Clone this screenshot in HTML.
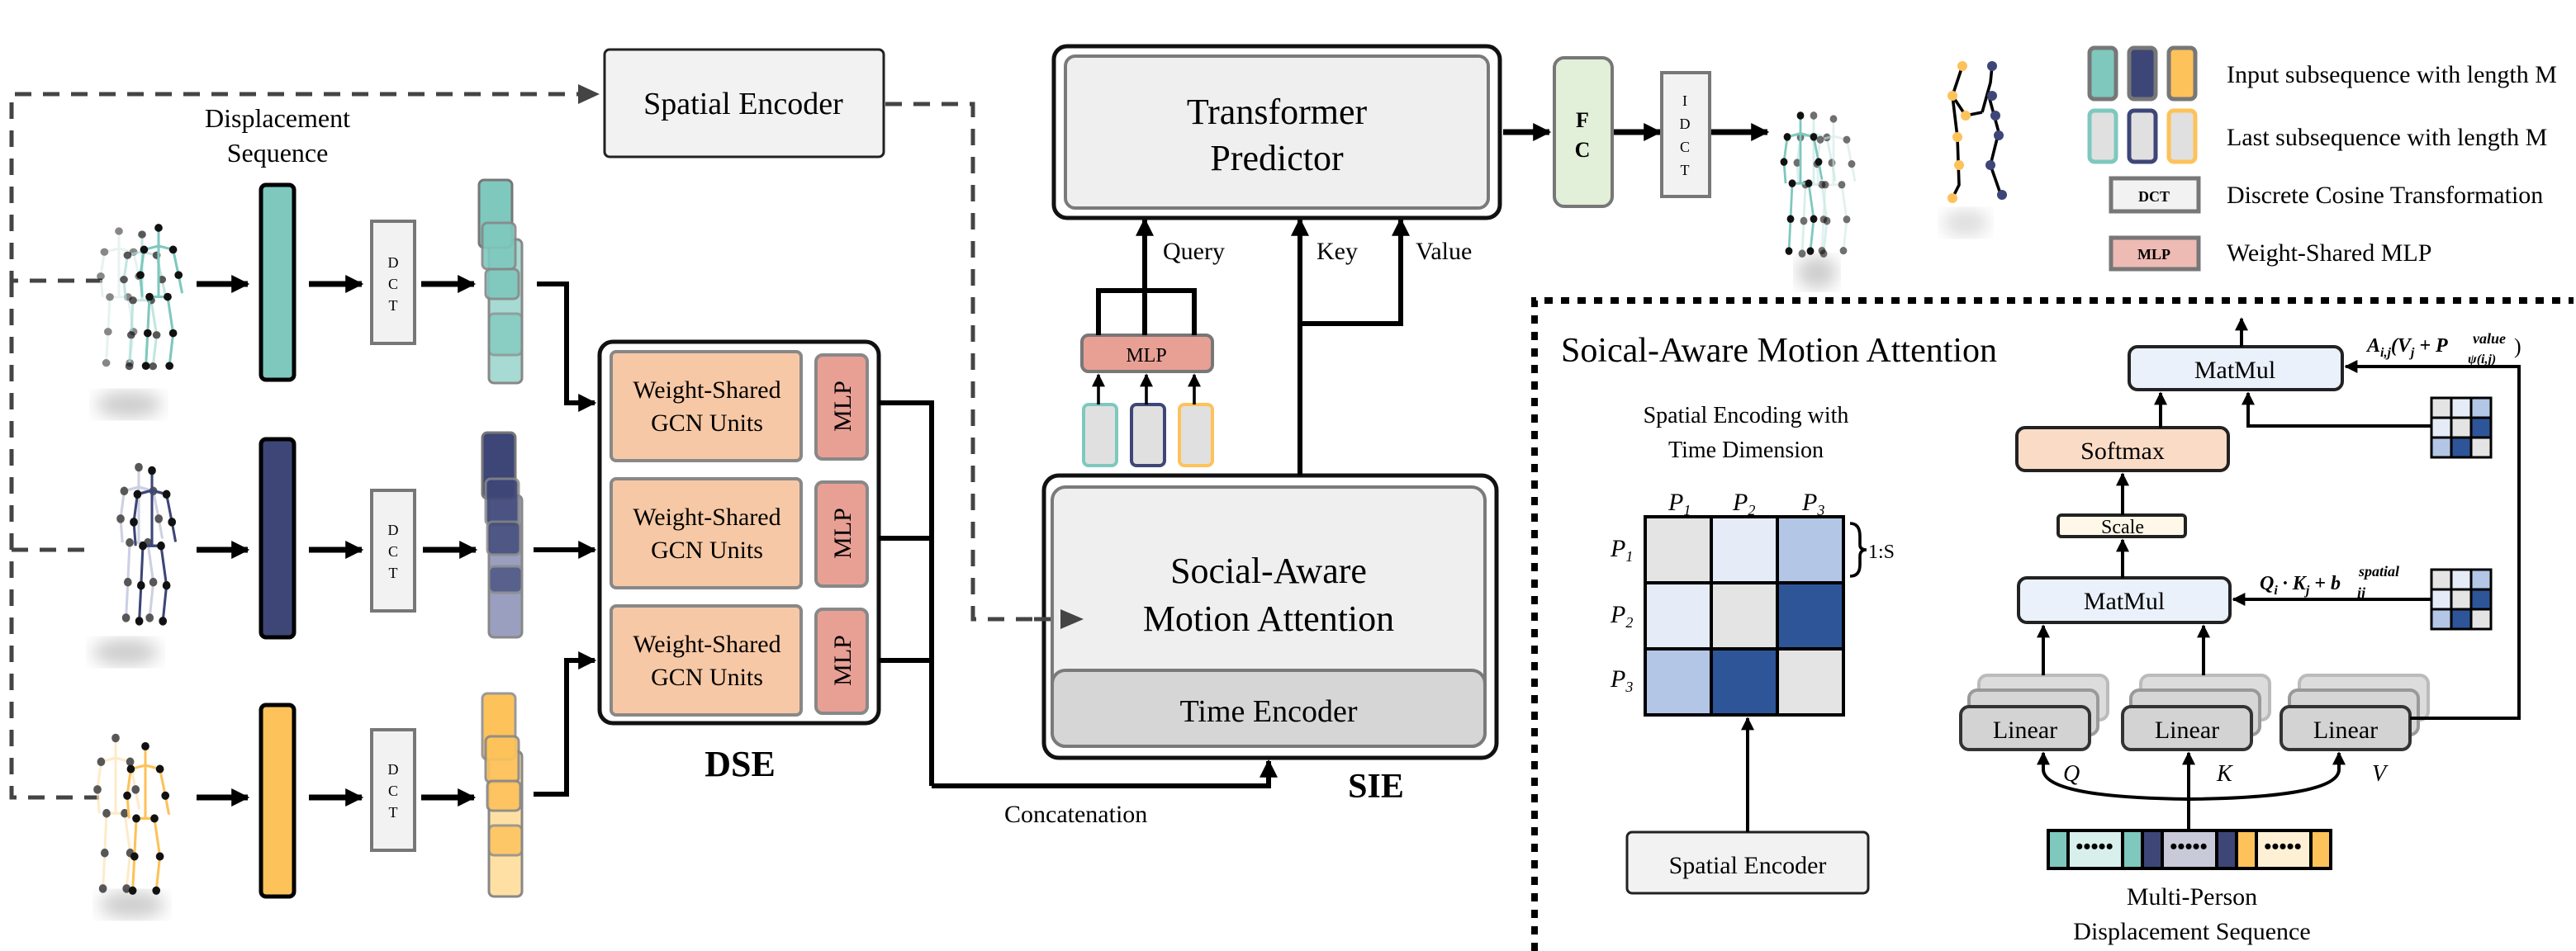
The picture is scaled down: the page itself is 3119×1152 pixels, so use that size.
<!DOCTYPE html>
<html><head><meta charset="utf-8">
<style>html,body{margin:0;padding:0;background:#fff}svg{display:block}text{font-family:"Liberation Serif",serif}</style>
</head><body>
<svg width="3119" height="1152" viewBox="0 0 1559.5 576" xmlns="http://www.w3.org/2000/svg">
<defs>
<marker id="a" viewBox="0 0 10 10" refX="9" refY="5" markerWidth="11" markerHeight="11" markerUnits="userSpaceOnUse" orient="auto"><path d="M0,0L10,5L0,10z" fill="#000"/></marker>
<marker id="as" viewBox="0 0 10 10" refX="9" refY="5" markerWidth="8" markerHeight="8" markerUnits="userSpaceOnUse" orient="auto"><path d="M0,0L10,5L0,10z" fill="#000"/></marker>
<filter id="bl"><feGaussianBlur stdDeviation="5"/></filter>
<g id="sk">
<polyline points="-8,12 0,10 8,12" fill="none"/>
<polyline points="0,0 0,10 0,38" fill="none"/>
<polyline points="-8,12 -10,26 -9,38" fill="none"/>
<polyline points="8,12 11,26 13,36" fill="none"/>
<polyline points="-5,38 5,38" fill="none"/>
<polyline points="-5,38 -6,58 -7,76" fill="none"/>
<polyline points="5,38 8,58 6,76" fill="none"/>
<g fill="#111" stroke="none"><circle cx="0" cy="0" r="2.2"/><circle cx="-8" cy="12" r="2.2"/><circle cx="8" cy="12" r="2.2"/><circle cx="-10" cy="26" r="2.2"/><circle cx="11" cy="26" r="2.2"/><circle cx="-5" cy="38" r="2.2"/><circle cx="5" cy="38" r="2.2"/><circle cx="-6" cy="58" r="2.2"/><circle cx="8" cy="58" r="2.2"/><circle cx="-7" cy="76" r="2.2"/><circle cx="6" cy="76" r="2.2"/></g>
</g>
</defs>

<!-- dashed connectors -->
<g stroke="#444" stroke-width="2.5" fill="none" stroke-dasharray="10 7">
<path d="M62,170 H7 V57 H352"/>
<path d="M7,170 V483 H60"/>
<path d="M7,333 H58"/>
<path d="M536,63 H589 V375 H630"/>
</g>
<polygon points="350,51 363,57 350,63" fill="#444"/>

<!-- Spatial encoder top -->
<rect x="366" y="30" width="169" height="65" rx="3" fill="#f2f2f2" stroke="#222" stroke-width="1.5"/>
<text x="450" y="69" font-size="19" text-anchor="middle">Spatial Encoder</text>
<text x="168" y="77" font-size="16" text-anchor="middle">Displacement</text>
<text x="168" y="98" font-size="16" text-anchor="middle">Sequence</text>

<!-- skeletons left -->
<ellipse cx="78" cy="245" rx="20" ry="8" fill="#ccc" filter="url(#bl)"/>
<ellipse cx="76" cy="395" rx="20" ry="8" fill="#ccc" filter="url(#bl)"/>
<ellipse cx="80" cy="548" rx="20" ry="8" fill="#ccc" filter="url(#bl)"/>
<g stroke-width="1.4">
<use href="#sk" transform="translate(72,140) scale(1.1,1.05)" stroke="#cfe9e5" opacity="0.5"/>
<use href="#sk" transform="translate(86,142) scale(1.1,1.05)" stroke="#a9dcd4" opacity="0.7"/>
<use href="#sk" transform="translate(96,138) scale(1.1,1.1)" stroke="#7ec8be"/>
<use href="#sk" transform="translate(84,283) scale(1.1,1.2)" stroke="#b9bdd6" opacity="0.7"/>
<use href="#sk" transform="translate(92,285) scale(1.1,1.2)" stroke="#3d4677"/>
<use href="#sk" transform="translate(70,447) scale(1.1,1.2)" stroke="#fde3b3" opacity="0.7"/>
<use href="#sk" transform="translate(88,452) scale(1.1,1.15)" stroke="#fdc25a"/>
</g>

<!-- rows -->
<g stroke="#000" stroke-width="3.5" fill="none">
<path d="M119,172 H150" marker-end="url(#a)"/>
<path d="M187,172 H219" marker-end="url(#a)"/>
<path d="M255,172 H287" marker-end="url(#a)"/>
<path d="M119,333 H150" marker-end="url(#a)"/>
<path d="M187,333 H219" marker-end="url(#a)"/>
<path d="M256,333 H288" marker-end="url(#a)"/>
<path d="M119,483 H150" marker-end="url(#a)"/>
<path d="M187,483 H219" marker-end="url(#a)"/>
<path d="M255,483 H287" marker-end="url(#a)"/>
</g>
<g stroke="#000" stroke-width="2.5">
<rect x="158" y="112" width="20" height="118" rx="3" fill="#7ec8be"/>
<rect x="158" y="266" width="20" height="120" rx="3" fill="#3d4677"/>
<rect x="158" y="427" width="20" height="116" rx="3" fill="#fdc25a"/>
</g>
<g fill="#f2f2f2" stroke="#777" stroke-width="2">
<rect x="225" y="134" width="26" height="74"/><rect x="225" y="297" width="26" height="73"/><rect x="225" y="442" width="26" height="73"/>
</g>
<g font-size="9" text-anchor="middle">
<text x="238" y="162">D</text><text x="238" y="175">C</text><text x="238" y="188">T</text>
<text x="238" y="324">D</text><text x="238" y="337">C</text><text x="238" y="350">T</text>
<text x="238" y="469">D</text><text x="238" y="482">C</text><text x="238" y="495">T</text>
</g>
<!-- stacks -->
<g stroke="#888" stroke-width="1.5">
<rect x="296" y="145" width="20" height="87" rx="3" fill="#a6dad2"/>
<rect x="290" y="109" width="20" height="41" rx="3" fill="#7ec8be" stroke="#777"/>
<rect x="292" y="135" width="20" height="28" rx="3" fill="#7ec8be" opacity="0.9"/>
<rect x="294" y="163" width="20" height="18" rx="3" fill="#7ec8be" opacity="0.9"/>
<rect x="296" y="190" width="20" height="25" rx="3" fill="#7ec8be" opacity="0.7"/>

<rect x="296" y="300" width="20" height="86" rx="3" fill="#9a9fbf"/>
<rect x="292" y="262" width="20" height="40" rx="3" fill="#3d4677" stroke="#777"/>
<rect x="294" y="290" width="20" height="28" rx="3" fill="#3d4677" opacity="0.85"/>
<rect x="295" y="316" width="20" height="20" rx="3" fill="#3d4677" opacity="0.8"/>
<rect x="296" y="343" width="20" height="16" rx="3" fill="#3d4677" opacity="0.7"/>

<rect x="296" y="455" width="20" height="88" rx="3" fill="#fee0a4"/>
<rect x="292" y="420" width="20" height="40" rx="3" fill="#fdc25a" stroke="#999"/>
<rect x="294" y="446" width="20" height="28" rx="3" fill="#fdc25a" opacity="0.9"/>
<rect x="295" y="473" width="20" height="18" rx="3" fill="#fdc25a" opacity="0.9"/>
<rect x="296" y="500" width="20" height="18" rx="3" fill="#fdc25a" opacity="0.8"/>
</g>
<g stroke="#000" stroke-width="3" fill="none">
<path d="M325,172 H343 V244 H360" marker-end="url(#a)"/>
<path d="M323,333 H360" marker-end="url(#a)"/>
<path d="M323,481 H343 V400 H360" marker-end="url(#a)"/>
</g>

<!-- DSE -->
<rect x="363" y="207" width="169" height="231" rx="8" fill="#fff" stroke="#111" stroke-width="2.5"/>
<g fill="#f7c8a5" stroke="#888" stroke-width="2">
<rect x="370" y="213" width="115" height="66" rx="3"/><rect x="370" y="290" width="115" height="66" rx="3"/><rect x="370" y="367" width="115" height="66" rx="3"/>
</g>
<g fill="#e8a095" stroke="#888" stroke-width="2">
<rect x="494" y="215" width="31" height="63" rx="4"/><rect x="494" y="292" width="31" height="63" rx="4"/><rect x="494" y="369" width="31" height="63" rx="4"/>
</g>
<g font-size="15" text-anchor="middle">
<text x="428" y="241">Weight-Shared</text><text x="428" y="261">GCN Units</text>
<text x="428" y="318">Weight-Shared</text><text x="428" y="338">GCN Units</text>
<text x="428" y="395">Weight-Shared</text><text x="428" y="415">GCN Units</text>
<text transform="translate(515,246) rotate(-90)" font-size="15">MLP</text>
<text transform="translate(515,323) rotate(-90)" font-size="15">MLP</text>
<text transform="translate(515,400) rotate(-90)" font-size="15">MLP</text>
</g>
<text x="448" y="470" font-size="22" font-weight="bold" text-anchor="middle">DSE</text>
<g stroke="#000" stroke-width="3" fill="none">
<path d="M532,244 H564 V476 M532,326 H564 M532,400 H564"/>
<path d="M564,476 H768 V461" marker-end="url(#a)"/>
</g>
<text x="608" y="498" font-size="15">Concatenation</text>

<!-- SIE -->
<rect x="632" y="288" width="274" height="171" rx="9" fill="#fff" stroke="#111" stroke-width="2.5"/>
<rect x="637" y="295" width="262" height="157" rx="8" fill="#efefef" stroke="#7a7a7a" stroke-width="2"/>
<rect x="637" y="406" width="262" height="46" rx="8" fill="#d6d6d6" stroke="#7a7a7a" stroke-width="2"/>
<text x="768" y="353" font-size="22" text-anchor="middle">Social-Aware</text>
<text x="768" y="382" font-size="22" text-anchor="middle">Motion Attention</text>
<text x="768" y="437" font-size="19" text-anchor="middle">Time Encoder</text>
<text x="833" y="483" font-size="21" font-weight="bold" text-anchor="middle">SIE</text>
<path d="M626,375 H645" stroke="#444" stroke-width="2.5" stroke-dasharray="10 7" fill="none"/>
<polygon points="642,369 656,375 642,381" fill="#444"/>

<!-- query mlp -->
<g fill="#e0e0e0" stroke-width="2">
<rect x="656" y="245" width="20" height="37" rx="3" stroke="#7ec8be"/>
<rect x="685" y="245" width="20" height="37" rx="3" stroke="#3d4677"/>
<rect x="714" y="245" width="20" height="37" rx="3" stroke="#fdc25a"/>
</g>
<g stroke="#000" stroke-width="1.8" fill="none">
<path d="M665,245 V227" marker-end="url(#as)"/><path d="M694,245 V227" marker-end="url(#as)"/><path d="M723,245 V227" marker-end="url(#as)"/>
</g>
<rect x="655" y="203" width="79" height="22" rx="4" fill="#e8a095" stroke="#777" stroke-width="2"/>
<text x="694" y="219" font-size="12" text-anchor="middle">MLP</text>
<g stroke="#000" stroke-width="3" fill="none">
<path d="M665,203 V176 H723 V203"/>
<path d="M693,203 V133" marker-end="url(#a)"/>
<path d="M787,288 V133" marker-end="url(#a)"/>
<path d="M787,196 H848 V133" marker-end="url(#a)"/>
</g>
<text x="704" y="157" font-size="15">Query</text>
<text x="797" y="157" font-size="15">Key</text>
<text x="857" y="157" font-size="15">Value</text>

<!-- Transformer -->
<rect x="638" y="28" width="270" height="104" rx="8" fill="#fff" stroke="#111" stroke-width="2.5"/>
<rect x="645" y="34" width="256" height="92" rx="6" fill="#efefef" stroke="#7a7a7a" stroke-width="2"/>
<text x="773" y="75" font-size="22" text-anchor="middle">Transformer</text>
<text x="773" y="103" font-size="22" text-anchor="middle">Predictor</text>
<g stroke="#000" stroke-width="3.5" fill="none">
<path d="M910,80 H938" marker-end="url(#a)"/><path d="M977,80 H1005" marker-end="url(#a)"/><path d="M1036,80 H1070" marker-end="url(#a)"/>
</g>
<rect x="941" y="35" width="35" height="90" rx="6" fill="#e2efd9" stroke="#777" stroke-width="2"/>
<text x="958" y="77" font-size="13" font-weight="bold" text-anchor="middle">F</text>
<text x="958" y="95" font-size="13" font-weight="bold" text-anchor="middle">C</text>
<rect x="1006" y="44" width="29" height="75" fill="#f2f2f2" stroke="#777" stroke-width="2"/>
<g font-size="9" text-anchor="middle"><text x="1020" y="64">I</text><text x="1020" y="78">D</text><text x="1020" y="92">C</text><text x="1020" y="106">T</text></g>

<!-- predicted skeletons -->
<ellipse cx="1100" cy="165" rx="12" ry="10" fill="#ccc" filter="url(#bl)"/>
<ellipse cx="1190" cy="135" rx="14" ry="8" fill="#ddd" filter="url(#bl)"/>
<g stroke-width="1.4">
<use href="#sk" transform="translate(1098,70) scale(1,1.1)" stroke="#bde6e0" opacity="0.6"/>
<use href="#sk" transform="translate(1110,72) scale(1,1.05)" stroke="#cfe9e5" opacity="0.6"/>
<use href="#sk" transform="translate(1090,70) scale(1,1.08)" stroke="#7ec8be"/>
</g>
<g stroke="#000" stroke-width="1.8" fill="none">
<path d="M1188,40 L1182,58 L1190,70 L1200,68 M1182,58 L1185,83 L1186,112 L1182,120 M1200,68 L1205,50 L1206,40 M1204,58 L1210,80 L1205,100 L1212,120"/>
</g>
<g fill="#fdc25a"><circle cx="1188" cy="40" r="3"/><circle cx="1182" cy="58" r="3"/><circle cx="1190" cy="70" r="3"/><circle cx="1185" cy="83" r="3"/><circle cx="1186" cy="100" r="3"/><circle cx="1182" cy="120" r="3"/></g>
<g fill="#3d4677"><circle cx="1206" cy="40" r="3"/><circle cx="1206" cy="58" r="3"/><circle cx="1208" cy="70" r="3"/><circle cx="1210" cy="82" r="3"/><circle cx="1205" cy="100" r="3"/><circle cx="1212" cy="118" r="3"/></g>

<!-- legend -->
<g stroke="#777" stroke-width="2.5">
<rect x="1265" y="29" width="16" height="31" rx="3" fill="#7ec8be"/><rect x="1289" y="29" width="16" height="31" rx="3" fill="#3d4677"/><rect x="1313" y="29" width="16" height="31" rx="3" fill="#fdc25a"/>
<rect x="1265" y="67" width="16" height="31" rx="3" fill="#e0e0e0" stroke="#7ec8be"/><rect x="1289" y="67" width="16" height="31" rx="3" fill="#e0e0e0" stroke="#3d4677"/><rect x="1313" y="67" width="16" height="31" rx="3" fill="#e0e0e0" stroke="#fdc25a"/>
<rect x="1278" y="108" width="53" height="20" fill="#f2f2f2"/>
<rect x="1278" y="144" width="53" height="19" fill="#eebab4"/>
</g>
<text x="1304" y="122" font-size="9" font-weight="bold" text-anchor="middle">DCT</text>
<text x="1304" y="157" font-size="9" font-weight="bold" text-anchor="middle">MLP</text>
<g font-size="15"><text x="1348" y="50">Input subsequence with length M</text><text x="1348" y="88">Last subsequence with length M</text><text x="1348" y="123">Discrete Cosine Transformation</text><text x="1348" y="158">Weight-Shared MLP</text></g>

<!-- dotted panel -->
<path d="M929,576 V182 H1558" fill="none" stroke="#000" stroke-width="4" stroke-dasharray="5 5"/>
<text x="945" y="219" font-size="21">Soical-Aware Motion Attention</text>
<text x="1057" y="256" font-size="14" text-anchor="middle">Spatial Encoding with</text>
<text x="1057" y="277" font-size="14" text-anchor="middle">Time Dimension</text>
<g stroke="#000" stroke-width="2">
<rect x="996" y="313" width="40" height="40" fill="#e4e4e4"/><rect x="1036" y="313" width="40" height="40" fill="#e6ecf7"/><rect x="1076" y="313" width="40" height="40" fill="#b3c6e6"/>
<rect x="996" y="353" width="40" height="40" fill="#e6ecf7"/><rect x="1036" y="353" width="40" height="40" fill="#e4e4e4"/><rect x="1076" y="353" width="40" height="40" fill="#2e5597"/>
<rect x="996" y="393" width="40" height="40" fill="#b3c6e6"/><rect x="1036" y="393" width="40" height="40" fill="#2e5597"/><rect x="1076" y="393" width="40" height="40" fill="#e4e4e4"/>
</g>
<g font-size="15" font-style="italic">
<text x="1010" y="309">P<tspan font-size="9" dy="3">1</tspan></text><text x="1049" y="309">P<tspan font-size="9" dy="3">2</tspan></text><text x="1091" y="309">P<tspan font-size="9" dy="3">3</tspan></text>
<text x="975" y="337">P<tspan font-size="9" dy="3">1</tspan></text><text x="975" y="377">P<tspan font-size="9" dy="3">2</tspan></text><text x="975" y="416">P<tspan font-size="9" dy="3">3</tspan></text>
</g>
<path d="M1120,317 Q1126,317 1126,325 V330 Q1126,333 1130,333 Q1126,333 1126,337 V342 Q1126,349 1120,349" fill="none" stroke="#000" stroke-width="1.8"/>
<text x="1131" y="338" font-size="12">1:S</text>
<rect x="985" y="504" width="146" height="37" rx="3" fill="#f2f2f2" stroke="#222" stroke-width="1.5"/>
<text x="1058" y="529" font-size="15" text-anchor="middle">Spatial Encoder</text>
<path d="M1058,504 V435" stroke="#000" stroke-width="2" fill="none" marker-end="url(#as)"/>

<!-- attention flow -->
<g stroke-width="2">
<rect x="1392" y="409" width="78" height="27" rx="5" fill="#dcdcdc" stroke="#bbb"/><rect x="1386" y="418" width="78" height="27" rx="5" fill="#d6d6d6" stroke="#999"/>
<rect x="1296" y="409" width="78" height="27" rx="5" fill="#dcdcdc" stroke="#bbb"/><rect x="1290" y="418" width="78" height="27" rx="5" fill="#d6d6d6" stroke="#999"/>
<rect x="1198" y="409" width="78" height="27" rx="5" fill="#dcdcdc" stroke="#bbb"/><rect x="1192" y="418" width="78" height="27" rx="5" fill="#d6d6d6" stroke="#999"/>
<rect x="1187" y="428" width="78" height="26" rx="5" fill="#d3d3d3" stroke="#333"/>
<rect x="1285" y="428" width="78" height="26" rx="5" fill="#d3d3d3" stroke="#333"/>
<rect x="1381" y="428" width="78" height="26" rx="5" fill="#d3d3d3" stroke="#333"/>
<rect x="1222" y="350" width="128" height="27" rx="5" fill="#eaf1fa" stroke="#222"/>
<rect x="1246" y="312" width="77" height="13" rx="2" fill="#fff8e8" stroke="#222"/>
<rect x="1221" y="259" width="128" height="26" rx="5" fill="#fadcc6" stroke="#222"/>
<rect x="1289" y="210" width="129" height="26" rx="5" fill="#eaf1fa" stroke="#222"/>
</g>
<g font-size="15" text-anchor="middle">
<text x="1226" y="447">Linear</text><text x="1324" y="447">Linear</text><text x="1420" y="447">Linear</text>
<text x="1286" y="369">MatMul</text><text x="1353" y="229">MatMul</text><text x="1285" y="278">Softmax</text>
<text x="1285" y="323" font-size="12">Scale</text>
</g>
<g stroke="#000" stroke-width="2" fill="none">
<path d="M1237,409 V379" marker-end="url(#as)"/><path d="M1334,409 V379" marker-end="url(#as)"/>
<path d="M1285,350 V327" marker-end="url(#as)"/><path d="M1285,312 V287" marker-end="url(#as)"/>
<path d="M1308,259 V238" marker-end="url(#as)"/><path d="M1357,210 V193" marker-end="url(#as)"/>
<path d="M1472,363 H1352" marker-end="url(#as)"/>
<path d="M1472,258 H1361 V238" marker-end="url(#as)"/>
<path d="M1459,435 H1525 V222 H1420" marker-end="url(#as)"/>
<path d="M1325,503 V456" marker-end="url(#as)"/>
<path d="M1237,458 V466 Q1237,483 1325,484 Q1416,483 1416,466 V458"/>
<path d="M1237,464 V456" marker-end="url(#as)"/><path d="M1416,464 V456" marker-end="url(#as)"/>
</g>
<g stroke="#000" stroke-width="1.5">
<rect x="1472" y="241" width="12" height="12" fill="#e4e4e4"/><rect x="1484" y="241" width="12" height="12" fill="#e6ecf7"/><rect x="1496" y="241" width="12" height="12" fill="#b3c6e6"/>
<rect x="1472" y="253" width="12" height="12" fill="#e6ecf7"/><rect x="1484" y="253" width="12" height="12" fill="#e4e4e4"/><rect x="1496" y="253" width="12" height="12" fill="#2e5597"/>
<rect x="1472" y="265" width="12" height="12" fill="#b3c6e6"/><rect x="1484" y="265" width="12" height="12" fill="#2e5597"/><rect x="1496" y="265" width="12" height="12" fill="#e4e4e4"/>
<rect x="1472" y="345" width="12" height="12" fill="#e4e4e4"/><rect x="1484" y="345" width="12" height="12" fill="#e6ecf7"/><rect x="1496" y="345" width="12" height="12" fill="#b3c6e6"/>
<rect x="1472" y="357" width="12" height="12" fill="#e6ecf7"/><rect x="1484" y="357" width="12" height="12" fill="#e4e4e4"/><rect x="1496" y="357" width="12" height="12" fill="#2e5597"/>
<rect x="1472" y="369" width="12" height="12" fill="#b3c6e6"/><rect x="1484" y="369" width="12" height="12" fill="#2e5597"/><rect x="1496" y="369" width="12" height="12" fill="#e4e4e4"/>
</g>
<g font-size="12" font-style="italic" font-weight="bold">
<text x="1368" y="357">Q<tspan font-size="8" dy="3">i</tspan><tspan dy="-3"> · K</tspan><tspan font-size="8" dy="3">j</tspan><tspan dy="-3"> + b</tspan></text>
<text x="1428" y="349" font-size="9">spatial</text><text x="1427" y="362" font-size="9">ij</text>
<text x="1433" y="213">A<tspan font-size="8" dy="3">i,j</tspan><tspan dy="-3">(V</tspan><tspan font-size="8" dy="3">j</tspan><tspan dy="-3"> + P</tspan></text>
<text x="1497" y="208" font-size="9">value</text><text x="1494" y="220" font-size="8">ψ(i,j)</text>
</g>
<text x="1522" y="214" font-size="13">)</text>
<g font-size="14" font-style="italic"><text x="1249" y="473">Q</text><text x="1342" y="473">K</text><text x="1436" y="473">V</text></g>
<!-- seq bar -->
<g stroke="#000" stroke-width="2">
<rect x="1240" y="503" width="12" height="23" fill="#7ec8be"/><rect x="1252" y="503" width="33" height="23" fill="#d9efec"/><rect x="1285" y="503" width="12" height="23" fill="#7ec8be"/>
<rect x="1297" y="503" width="12" height="23" fill="#3d4677"/><rect x="1309" y="503" width="33" height="23" fill="#c8c9d9"/><rect x="1342" y="503" width="12" height="23" fill="#3d4677"/>
<rect x="1354" y="503" width="12" height="23" fill="#fdc25a"/><rect x="1366" y="503" width="33" height="23" fill="#fef0d4"/><rect x="1399" y="503" width="12" height="23" fill="#fdc25a"/>
</g>
<g font-size="13" font-weight="bold" text-anchor="middle"><text x="1268" y="517">•••••</text><text x="1325" y="517">•••••</text><text x="1382" y="517">•••••</text></g>
<text x="1327" y="548" font-size="15" text-anchor="middle">Multi-Person</text>
<text x="1327" y="569" font-size="15" text-anchor="middle">Displacement Sequence</text>
</svg>
</body></html>
